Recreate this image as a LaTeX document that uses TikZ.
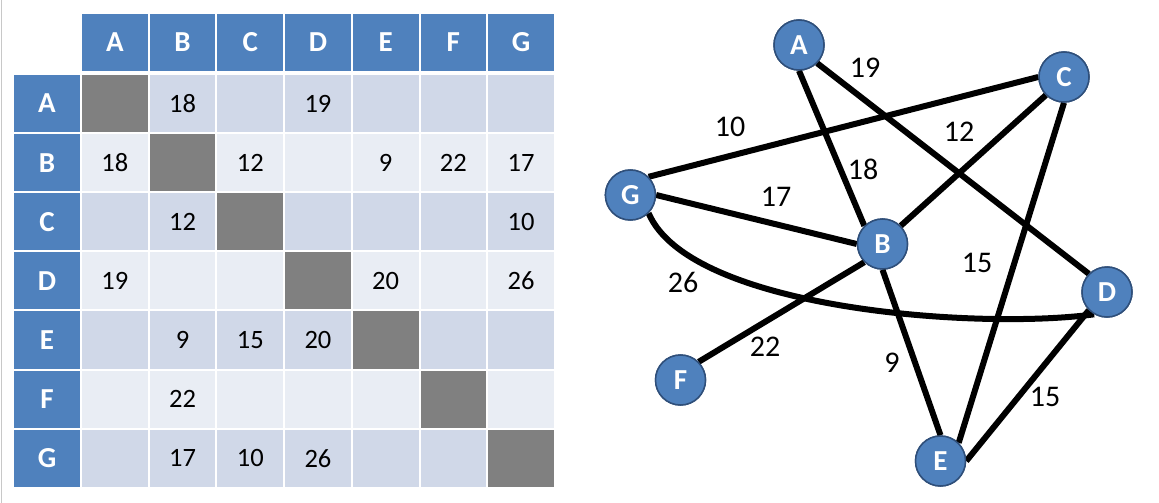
\documentclass[tikz,border=0pt]{standalone}
\usepackage{fontspec}
\setmainfont{Carlito}
\definecolor{hdr}{HTML}{4F81BD}
\definecolor{rowdark}{HTML}{D0D8E8}
\definecolor{rowlight}{HTML}{E9EDF4}
\definecolor{diagcell}{HTML}{808080}
\definecolor{nodeedge}{HTML}{2F4F7A}
\definecolor{leftrule}{HTML}{C8C8C8}
\tikzset{
  hdrcell/.style={fill=hdr, draw=white, line width=2pt},
  datacell/.style={draw=white, line width=2pt},
  hdrtext/.style={font=\fontsize{29}{31}\selectfont\bfseries, text=white, inner sep=0pt},
  cellnum/.style={font=\fontsize{26.5}{28}\selectfont, text=black, inner sep=0pt},
  vertex/.style={circle, fill=hdr, draw=nodeedge, line width=1.5pt, minimum size=50pt, inner sep=0pt,
    font=\fontsize{29}{31}\selectfont\bfseries, text=white},
  edgeline/.style={line width=6pt, black},
  wlabel/.style={font=\fontsize{30}{32}\selectfont, text=black, inner sep=0pt}
}
\begin{document}
\begin{tikzpicture}[x=1pt, y=-1pt]
\useasboundingbox (0,0) rectangle (1159,503);
\fill[white] (0,0) rectangle (1159,503);
\draw[leftrule, line width=1.2pt] (1.5,0) -- (1.5,503);
% ---------- table ----------
\foreach \l [count=\i from 0] in {A,B,C,D,E,F,G}{
  \path[hdrcell] ({81+67.7*\i},13) rectangle ++(67.7,59);
  \node[hdrtext] (ch-\l) at ({81+67.7*\i+33.85},42.5) {\l};
  \path[hdrcell] (13,{74+59.1*\i}) rectangle (80.5,{74+59.1*(\i+1)});
  \node[hdrtext] (rh-\l) at (47,{74+59.1*\i+29.55}) {\l};
}
\foreach \r in {0,...,6}{
  \pgfmathtruncatemacro\rodd{mod(\r,2)}
  \foreach \c in {0,...,6}{
    \ifnum\r=\c\relax
      \def\cc{diagcell}%
    \else
      \ifnum\rodd=0\relax\def\cc{rowdark}\else\def\cc{rowlight}\fi
    \fi
    \path[datacell, fill=\cc] ({81+67.7*\c},{74+59.1*\r}) rectangle ++(67.7,59.1);
  }
}
\foreach \r/\c/\v in {0/1/18, 0/3/19, 1/0/18, 1/2/12, 1/4/9, 1/5/22, 1/6/17,
  2/1/12, 2/6/10, 3/0/19, 3/4/20, 3/6/26, 4/1/9, 4/2/15, 4/3/20,
  5/1/22, 6/1/17, 6/2/10, 6/3/26}{
  \node[cellnum] (m-\r-\c) at ({81+67.7*\c+33.85},{74+59.1*\r+29.55}) {\v};
}
% ---------- graph ----------
\node[vertex] (A) at (799,45) {A};
\node[vertex] (C) at (1064,77) {C};
\node[vertex] (G) at (630.4,195) {G};
\node[vertex] (B) at (882.5,244) {B};
\node[vertex] (D) at (1107,292) {D};
\node[vertex] (F) at (680.5,380) {F};
\node[vertex] (E) at (940.5,461) {E};
\begin{scope}[edgeline]
\draw (A.270) -- (B.135);
\draw (A.315) -- (D.135);
\draw (C.180) -- (G.45);
\draw (C.225) -- (B.45);
\draw (C.270) -- (E.45);
\draw (G.0) -- (B.180);
\draw (B.225) -- (F.45);
\draw (B.270) -- (E.90);
\draw (D.225) -- (E.0);
\draw (G.315) .. controls (690,310) and (980,330) .. (D.240);
\end{scope}
% redraw nodes on top
\node[vertex] at (A) {A};
\node[vertex] at (C) {C};
\node[vertex] at (G) {G};
\node[vertex] at (B) {B};
\node[vertex] at (D) {D};
\node[vertex] at (F) {F};
\node[vertex] at (E) {E};
% weights
\node[wlabel] (w-AD) at (865,68) {19};
\node[wlabel] (w-CG) at (730,127) {10};
\node[wlabel] (w-CB) at (959,132) {12};
\node[wlabel] (w-AB) at (863,169) {18};
\node[wlabel] (w-GB) at (776,197) {17};
\node[wlabel] (w-CE) at (977,263) {15};
\node[wlabel] (w-GD) at (683,282) {26};
\node[wlabel] (w-BF) at (765,347) {22};
\node[wlabel] (w-BE) at (892,363) {9};
\node[wlabel] (w-DE) at (1045,397) {15};
\end{tikzpicture}
\end{document}
